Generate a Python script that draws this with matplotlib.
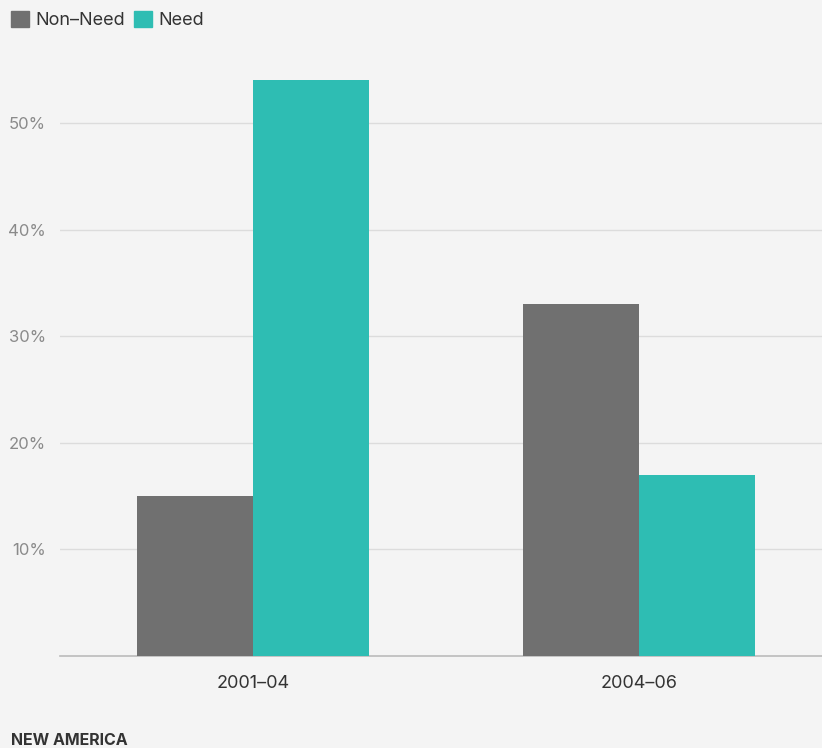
import numpy as np
import matplotlib
matplotlib.use("Agg")
import matplotlib.pyplot as plt
from matplotlib.patches import Patch

periods = ["2001\u201304", "2004\u201306"]
non_need = [15, 33]
need = [54, 17]
yticks = [10, 20, 30, 40, 50]

grey = "#707070"
teal = "#2ebdb3"
bg = "#f4f4f4"

plt.rcParams['font.family'] = ['Inter', 'DejaVu Sans']

fig = plt.figure(figsize=(8.22, 7.48), dpi=100, facecolor=bg)
ax = fig.add_axes([0.073, 0.123, 0.927, 0.798], facecolor=bg)

x = np.arange(len(periods))
w = 0.3
ax.bar(x - w / 2, non_need, w, color=grey, zorder=3)
ax.bar(x + w / 2, need, w, color=teal, zorder=3)

ax.set_xlim(-0.5, 1.474)
ax.set_ylim(0, 56)
ax.set_yticks(yticks)
ax.set_yticklabels([f"{v}%" for v in yticks], color="#8a8a8a", fontsize=12)
ax.yaxis.grid(True, color="#dcdcdc", linewidth=1, zorder=0)
ax.set_xticks(x)
ax.set_xticklabels(periods, fontsize=13, color="#333333")
ax.tick_params(axis="both", length=0)
ax.tick_params(axis="x", pad=14)
ax.tick_params(axis="y", pad=10)

for s in ["top", "right", "left"]:
    ax.spines[s].set_visible(False)
ax.spines["bottom"].set_color("#bbbbbb")
ax.spines["bottom"].set_linewidth(1.2)

handles = [Patch(color=grey, label="Non\u2013Need"), Patch(color=teal, label="Need")]
fig.legend(handles=handles, loc="upper left", bbox_to_anchor=(0.0, 1.0), ncol=2,
           frameon=False, fontsize=13, handlelength=1.0, handleheight=1.0,
           handletextpad=0.35, columnspacing=0.5, labelcolor="#333333",
           borderaxespad=0.3, borderpad=0.3)

fig.text(0.013, 0.004, "NEW AMERICA", fontsize=11.5, fontweight="bold", color="#333333")

fig.savefig("out.png", dpi=100, facecolor=bg)
